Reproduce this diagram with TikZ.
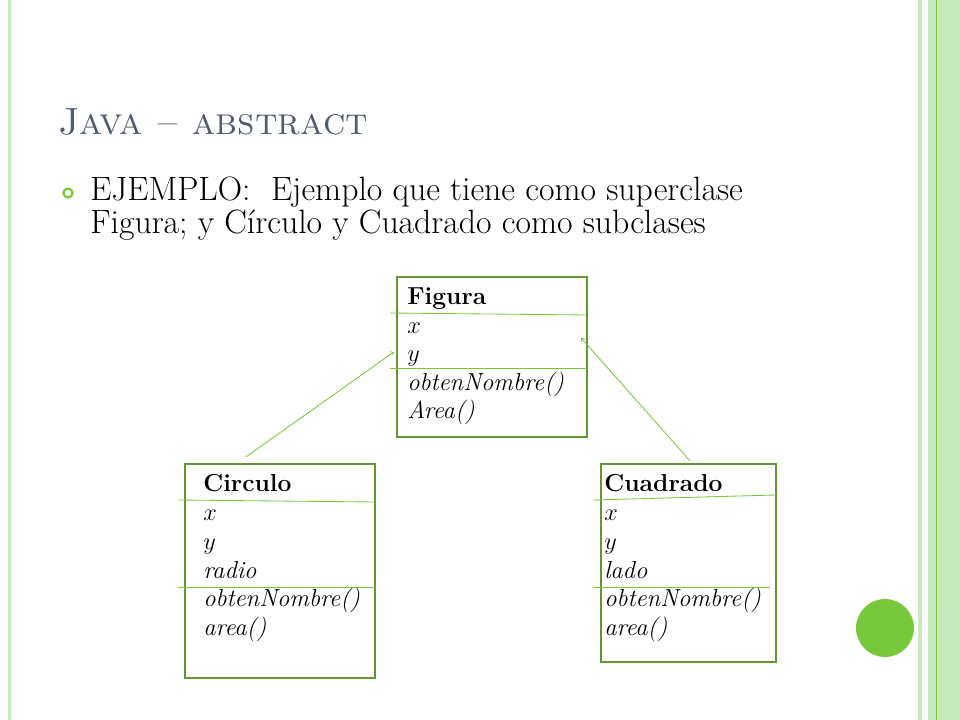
\documentclass[tikz,border=0pt]{standalone}
\usepackage{tikz}
\usetikzlibrary{arrows,calc,positioning}
\definecolor{boxgreen}{RGB}{100,150,50}
\definecolor{linegreen}{RGB}{120,200,60}
\definecolor{palegreen}{RGB}{200,232,190}
\definecolor{titlegray}{RGB}{80,90,110}

\begin{document}
\begin{tikzpicture}[
	x = 0.025cm, y = -0.025cm, % pixel grid
	> = to, % arrow head style
	box/.style={rectangle, draw=boxgreen, line width=1.6pt, inner sep=0pt},
	row/.style={anchor=base west, inner sep=0pt, font=\fontsize{17.5}{19}\selectfont\itshape},
	head/.style={anchor=base west, inner sep=0pt, font=\fontsize{17.5}{19}\selectfont\bfseries},
	body/.style={anchor=base west, inner sep=0pt, font=\fontsize{24}{28}\selectfont},
	sep/.style={linegreen, line width=0.6pt},
	]
	\useasboundingbox (0,0) rectangle (960,720);

	% Border stripes
	\fill[palegreen] (8,0) rectangle (11,720);
	\fill[palegreen] (918,0) rectangle (922,720);
	\fill[palegreen] (928,0) rectangle (960,720);
	\draw[linegreen, line width=0.6pt] (936,0) -- (936,720);
	\fill[linegreen] (885,628) circle (29);

	% Title and bullet
	\node[anchor=base west, inner sep=0pt, text=titlegray, font=\fontsize{27}{30}\selectfont] (title) at (58,135) {\textsc{Java -- abstract}};
	\draw[linegreen, line width=1.6pt] (68,193) circle (4.5);
	\node[body] (text1) at (90,201) {EJEMPLO:\ \ Ejemplo que tiene como superclase};
	\node[body] (text2) at (90,234) {Figura; y Círculo y Cuadrado como subclases};

	% Boxes
	\node[box, minimum width=4.75cm, minimum height=4cm] (figura) at (492,357) {};
	\node[box, minimum width=4.75cm, minimum height=5.35cm] (circulo) at (280,571) {};
	\node[box, minimum width=4.375cm, minimum height=4.95cm] (cuadrado) at (688.5,563) {};

	% Separators
	\draw[sep] (390,313) -- (587,315);
	\draw[sep] (390,368) -- (587,368);
	\draw[sep] (178,500) -- (375,502);
	\draw[sep] (178,587) -- (375,587);
	\draw[sep] (593,500) -- (776,495);
	\draw[sep] (593,587) -- (770,587);

	% Rows
	\node[head] (f0) at (407,305) {Figura};
	\foreach \t [count=\i] in {$x$,$y$,obtenNombre(),Area()}
		\node[row] (f\i) at (407,305+28.5*\i) {\t};
	\node[head] (c0) at (203,492) {Circulo};
	\foreach \t [count=\i] in {$x$,$y$,radio,obtenNombre(),area()}
		\node[row] (c\i) at (203,492+28.7*\i) {\t};
	\node[head] (q0) at (604,492) {Cuadrado};
	\foreach \t [count=\i] in {$x$,$y$,lado,obtenNombre(),area()}
		\node[row] (q\i) at (604,492+28.7*\i) {\t};

	% Inheritance arrows
	\draw[->, linegreen, line width=0.6pt] ($(circulo.north)+(-34,-6)$) -- ($(figura.west)+(-2,-5)$);
	\draw[->, linegreen, line width=0.6pt] ($(cuadrado.north)+(1.5,-2)$) -- ($(figura.east)+(-7,-19)$);
\end{tikzpicture}
\end{document}
